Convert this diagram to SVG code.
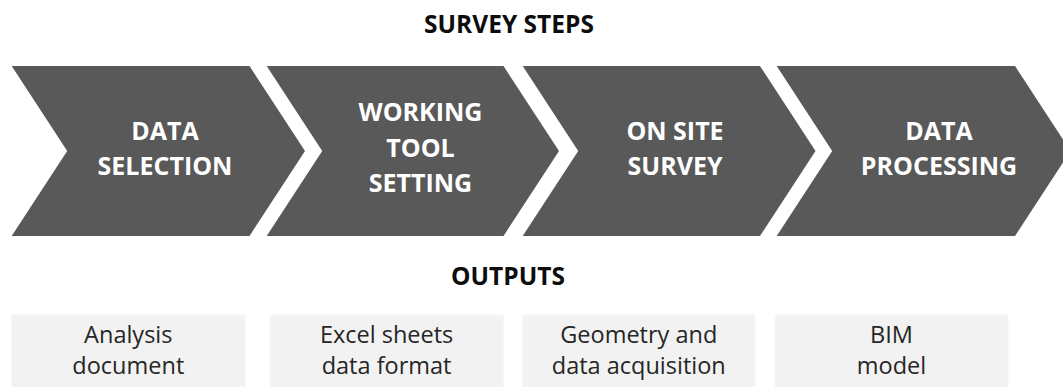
<svg xmlns="http://www.w3.org/2000/svg" width="1063" height="387" viewBox="0 0 1063 387">
<style>
.title{font-family:"Open Sans","Liberation Sans",sans-serif;font-weight:bold;font-size:24.5px;fill:#0d0d0d;text-anchor:middle}
.chev{fill:#595959}
.ct{font-family:"Open Sans","Liberation Sans",sans-serif;font-weight:bold;font-size:25px;fill:#ffffff;text-anchor:middle}
.box{fill:#f2f2f2;stroke:#f7f7f7;stroke-width:1}
.bt{font-family:"Open Sans","Liberation Sans",sans-serif;font-size:23.5px;fill:#262626;text-anchor:middle}
</style>
<rect width="1063" height="387" fill="#ffffff"/>
<text class="title" x="509" y="33">SURVEY STEPS</text>
<text class="title" x="508" y="285">OUTPUTS</text>
<g id="step1">
<polygon class="chev" points="11.7,66 249.5,66 305,151 249.5,236 11.7,236 67.2,151"/>
<text class="ct" x="165" y="140">DATA</text>
<text class="ct" x="165" y="175">SELECTION</text>
</g>
<g id="step2">
<polygon class="chev" points="266.7,66 503.5,66 559,151 503.5,236 266.7,236 322.2,151"/>
<text class="ct" x="420.5" y="121">WORKING</text>
<text class="ct" x="420.5" y="156.5">TOOL</text>
<text class="ct" x="420.5" y="192">SETTING</text>
</g>
<g id="step3">
<polygon class="chev" points="522.7,66 760,66 815.5,151 760,236 522.7,236 578.2,151"/>
<text class="ct" x="675" y="140">ON SITE</text>
<text class="ct" x="675" y="175">SURVEY</text>
</g>
<g id="step4">
<polygon class="chev" points="776.7,66 1015,66 1070.5,151 1015,236 776.7,236 832.2,151"/>
<text class="ct" x="939" y="140">DATA</text>
<text class="ct" x="939" y="175">PROCESSING</text>
</g>
<g id="connectors"></g>
<g id="out1">
<rect class="box" x="11.7" y="315" width="233.3" height="73"/>
<text class="bt" x="128.3" y="343">Analysis</text>
<text class="bt" x="128.3" y="374">document</text>
</g>
<g id="out2">
<rect class="box" x="270" y="315" width="233.3" height="73"/>
<text class="bt" x="386.6" y="343">Excel sheets</text>
<text class="bt" x="386.6" y="374">data format</text>
</g>
<g id="out3">
<rect class="box" x="522.7" y="315" width="232.3" height="73"/>
<text class="bt" x="638.8" y="343">Geometry and</text>
<text class="bt" x="638.8" y="374">data acquisition</text>
</g>
<g id="out4">
<rect class="box" x="775" y="315" width="233" height="73"/>
<text class="bt" x="891.5" y="343">BIM</text>
<text class="bt" x="891.5" y="374">model</text>
</g>
</svg>
